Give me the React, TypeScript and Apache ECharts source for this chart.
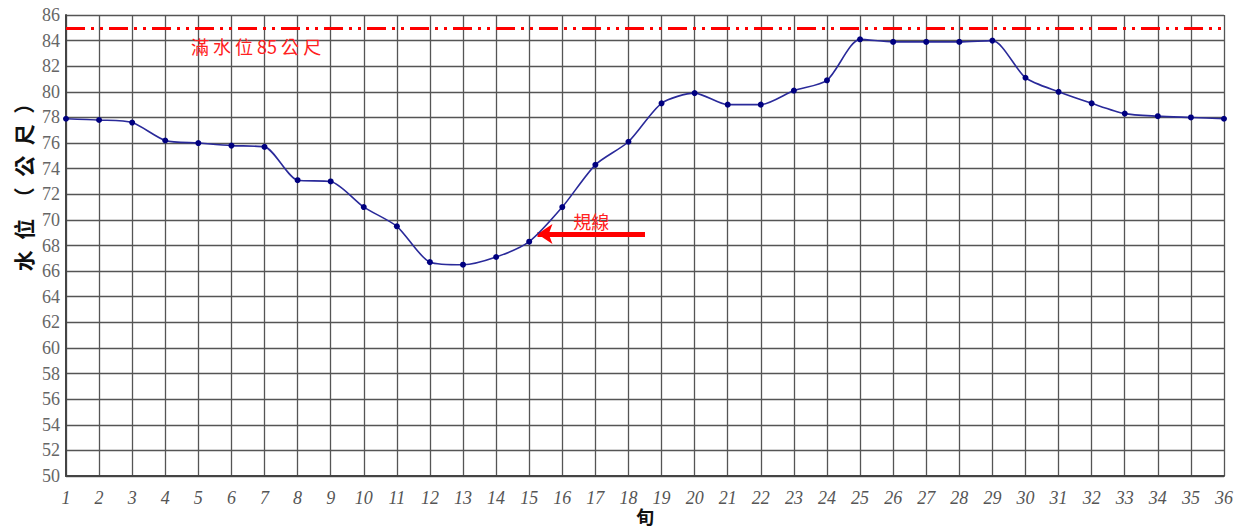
import React, { useEffect, useRef } from "react";
import * as echarts from "echarts";

const days = Array.from({ length: 36 }, (_, i) => i + 1);
const levels = [
  77.9, 77.8, 77.6, 76.2, 76.0, 75.8, 75.7, 73.1, 73.0, 71.0, 69.5, 66.7,
  66.5, 67.1, 68.3, 71.0, 74.3, 76.1, 79.1, 79.9, 79.0, 79.0, 80.1, 80.9,
  84.1, 83.9, 83.9, 83.9, 84.0, 81.1, 80.0, 79.1, 78.3, 78.1, 78.0, 77.9,
];
const fullLevel = 85;
const fullLabel = "滿 水 位 85 公 尺";
const ruleLabel = "規線";
const ruleArrow = { fromX: 18.5, toX: 15.25, y: 68.9 };
const yTitleChars = ["水", "位", "（", "公", "尺", "）"];
const xTitle = "旬";

const serif = "'Liberation Serif', 'DejaVu Serif', 'Times New Roman', serif";

export default function App() {
  const ref = useRef<HTMLDivElement>(null);
  useEffect(() => {
    const chart = echarts.init(ref.current!, undefined, { renderer: "svg" });
    const gridColor = "#555555";
    chart.setOption({
      animation: false,
      backgroundColor: "#ffffff",
      grid: {
        left: 66,
        right: 11,
        top: 15,
        bottom: 54,
        containLabel: false,
        outerBoundsMode: "none",
      },
      xAxis: {
        type: "value",
        min: 1,
        max: 36,
        interval: 1,
        name: xTitle,
        nameLocation: "middle",
        nameGap: 40,
        nameMoveOverlap: false,
        nameTextStyle: {
          fontFamily: "Noto Sans CJK TC",
          fontWeight: "bold",
          fontSize: 18,
          color: "#111",
          verticalAlign: "middle",
        },
        axisLine: { show: true, lineStyle: { color: "#444", width: 2 } },
        axisTick: { show: false },
        axisLabel: {
          margin: 13,
          fontFamily: serif,
          fontStyle: "italic",
          fontSize: 18,
          color: "#555",
        },
        splitLine: { show: true, lineStyle: { color: gridColor, width: 1.3 } },
      },
      yAxis: {
        type: "value",
        min: 50,
        max: 86,
        interval: 2,
        axisLine: { show: true, lineStyle: { color: "#444", width: 2 } },
        axisTick: { show: false },
        axisLabel: {
          margin: 6,
          fontFamily: serif,
          fontSize: 18,
          color: "#666",
        },
        splitLine: { show: true, lineStyle: { color: gridColor, width: 1.3 } },
      },
      graphic: [
        {
          type: "text",
          x: 23,
          y: 182,
          rotation: Math.PI / 2,
          style: {
            text: yTitleChars.join("\u2002"),
            fontFamily: "Noto Sans CJK TC",
            fontWeight: "bold",
            fontSize: 21,
            fill: "#111",
            textAlign: "center",
            textVerticalAlign: "middle",
          },
        },
      ],
      series: [
        {
          type: "line",
          data: days.map((d, i) => [d, levels[i]]),
          smooth: 0.25,
          symbol: "circle",
          symbolSize: 6,
          itemStyle: { color: "#000080" },
          lineStyle: { color: "#2a2a9a", width: 1.6 },
          z: 5,
        },
        {
          type: "line",
          data: [],
          markLine: {
            silent: true,
            symbol: "none",
            lineStyle: {
              color: "#ff0000",
              width: 3,
              type: [19, 6, 3, 6, 3, 6],
            },
            label: {
              show: true,
              position: "insideStartBottom",
              formatter: fullLabel,
              color: "#ff2020",
              fontFamily: "Noto Sans CJK TC",
              fontSize: 18,
              distance: 9,
              padding: [0, 0, 0, 116],
            },
            data: [{ yAxis: fullLevel }],
          },
        },
        {
          type: "line",
          data: [],
          markLine: {
            silent: true,
            symbol: ["none", "arrow"],
            symbolSize: [15, 15],
            lineStyle: { color: "#ff0000", width: 5, type: "solid" },
            label: {
              show: true,
              position: "middle",
              formatter: ruleLabel,
              color: "#ff2020",
              fontFamily: "Noto Sans CJK TC",
              fontSize: 18,
              distance: 4,
            },
            data: [
              [
                { coord: [ruleArrow.fromX, ruleArrow.y] },
                { coord: [ruleArrow.toX, ruleArrow.y] },
              ],
            ],
          },
        },
      ],
    });
    return () => chart.dispose();
  }, []);
  return (
    <div
      ref={ref}
      style={{ position: "fixed", left: 0, top: 0, width: 1235, height: 530 }}
    />
  );
}
